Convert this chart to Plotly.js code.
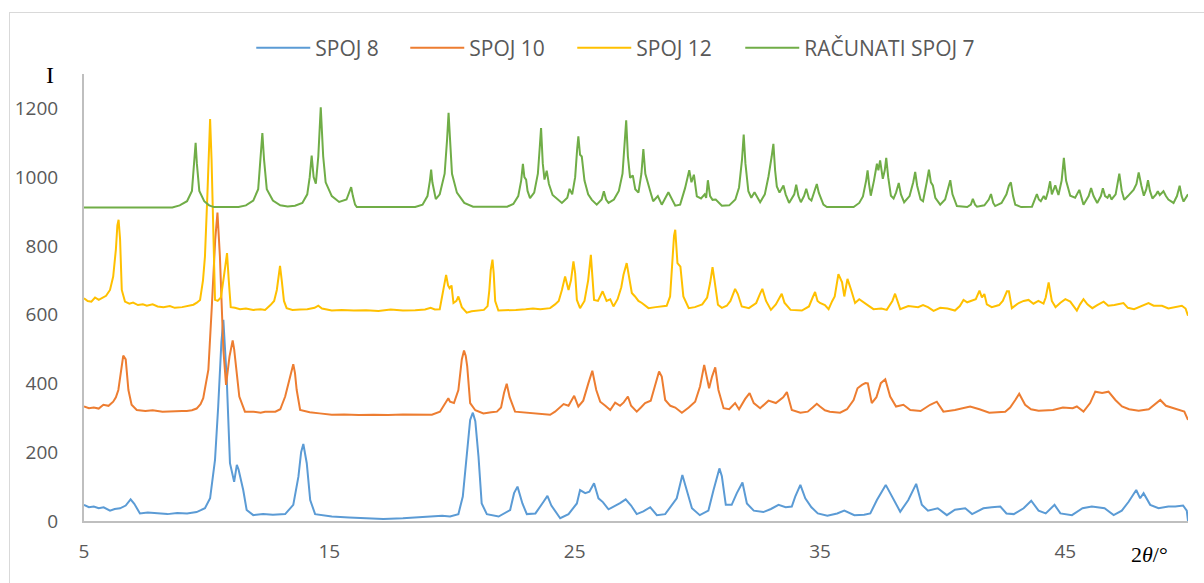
<!DOCTYPE html>
<html>
<head>
<meta charset="utf-8">
<script src="https://cdn.plot.ly/plotly-3.0.1.min.js"></script>
<style>
html,body{margin:0;padding:0;background:#fff;overflow:hidden;}
#wrap{position:relative;width:1204px;height:583px;}
#chart{position:absolute;left:0;top:0;width:1204px;height:583px;}
#frame{position:absolute;left:9px;top:12px;width:1300px;height:700px;border:1px solid #d9d9d9;pointer-events:none;}
</style>
</head>
<body>
<div id="wrap"><div id="chart"></div><div id="frame"></div></div>
<script>
// ---- data (2θ in degrees, intensity) ----
const seriesNames = ["SPOJ 8", "SPOJ 10", "SPOJ 12", "RAČUNATI SPOJ 7"];
const xTickVals = [5, 15, 25, 35, 45];
const yTickVals = [0, 200, 400, 600, 800, 1000, 1200];

const spoj8X = [5.0,5.2,5.4,5.6,5.8,6.06,6.25,6.47,6.7,6.9,7.05,7.28,7.6,8.0,8.4,8.8,9.2,9.59,9.93,10.14,10.34,10.47,10.6,10.68,10.75,10.82,10.95,11.12,11.23,11.3,11.49,11.63,11.9,12.3,12.7,13.2,13.53,13.74,13.85,13.94,14.08,14.22,14.42,15.1,15.8,16.46,17.2,18.0,18.6,19.18,19.6,19.92,20.26,20.44,20.61,20.74,20.85,20.95,21.08,21.21,21.42,21.9,22.37,22.53,22.67,22.87,23.05,23.4,23.73,23.89,24.05,24.41,24.75,25.09,25.22,25.43,25.6,25.79,25.97,26.15,26.38,26.6,26.85,27.08,27.3,27.53,27.8,28.08,28.35,28.69,28.95,29.16,29.39,29.57,29.78,30.1,30.45,30.66,30.9,31.0,31.16,31.4,31.61,31.84,32.02,32.3,32.69,33.0,33.31,33.6,33.85,33.99,34.2,34.4,34.65,34.91,35.3,35.7,35.99,36.4,36.8,37.05,37.32,37.68,37.97,38.27,38.6,38.92,39.15,39.4,39.8,40.17,40.5,40.92,41.2,41.66,42.0,42.35,42.6,42.9,43.3,43.61,43.91,44.2,44.56,44.8,45.27,45.7,46.08,46.6,46.97,47.3,47.58,47.89,48.05,48.19,48.46,48.8,49.2,49.48,49.8,49.95,50.0];
const spoj8Y = [47,40,42,37,40,30,35,37,45,63,50,22,25,22,20,23,22,26,37,66,178,333,520,585,500,410,168,114,163,150,90,32,17,20,18,20,47,129,200,224,168,61,20,13,10,8,6,8,10,13,15,13,20,71,207,294,315,290,187,51,20,13,32,81,100,51,20,22,56,73,45,8,20,51,90,81,85,110,66,55,34,42,52,63,45,20,28,40,17,20,45,66,134,90,37,17,30,90,153,130,47,47,81,112,51,30,26,35,47,40,42,71,105,66,40,22,15,22,30,17,18,22,61,105,66,27,61,108,47,30,37,17,33,37,20,37,40,42,22,20,37,59,30,22,47,22,17,37,42,37,17,30,56,90,66,81,47,37,42,42,45,30,0];

const spoj10X = [5.0,5.2,5.4,5.6,5.79,6.0,6.19,6.3,6.4,6.5,6.6,6.7,6.81,6.94,7.15,7.5,7.8,8.2,8.6,9.0,9.19,9.4,9.59,9.75,9.86,10.07,10.21,10.35,10.44,10.54,10.68,10.79,10.93,11.06,11.12,11.2,11.33,11.56,11.9,12.2,12.38,12.8,13.0,13.2,13.33,13.45,13.53,13.6,13.67,13.81,14.2,14.6,15.1,15.6,16.2,16.8,17.4,18.0,18.6,19.18,19.51,19.7,19.85,19.92,20.08,20.26,20.4,20.49,20.56,20.62,20.74,20.95,21.28,21.6,21.83,22.0,22.12,22.23,22.35,22.57,23.0,23.5,24.0,24.2,24.34,24.55,24.75,24.98,25.15,25.35,25.56,25.72,25.88,26.04,26.25,26.45,26.65,26.85,27.0,27.17,27.3,27.53,27.7,27.87,28.1,28.28,28.44,28.55,28.69,28.9,29.1,29.37,29.65,29.91,30.11,30.28,30.35,30.48,30.6,30.73,30.86,31.07,31.3,31.54,31.7,31.95,32.13,32.3,32.56,32.9,33.2,33.5,33.65,33.85,34.2,34.5,34.7,34.87,35.0,35.2,35.4,35.82,36.1,36.37,36.53,36.71,36.85,36.95,37.11,37.3,37.48,37.66,37.86,38.1,38.4,38.68,39.1,39.49,39.76,40.03,40.5,41.12,41.5,41.9,42.55,42.75,42.96,43.12,43.36,43.6,43.91,44.5,44.9,45.3,45.47,45.74,46.01,46.22,46.5,46.76,47.04,47.31,47.6,47.99,48.4,48.65,48.87,49.1,49.35,49.62,49.85,50.0];
const spoj10Y = [333,328,330,327,338,335,347,360,381,430,481,470,381,338,323,320,322,318,320,320,320,322,327,340,357,440,624,820,897,769,498,396,478,525,500,440,362,318,318,315,318,318,325,362,401,440,456,430,381,323,316,313,309,310,308,309,308,310,309,309,318,340,357,347,343,381,470,496,480,450,343,322,313,316,318,330,372,399,360,318,315,312,309,318,327,340,335,364,333,350,401,437,381,347,335,323,344,335,345,362,335,318,330,343,350,396,435,420,352,335,330,315,330,347,391,454,430,386,420,447,381,328,325,343,325,355,372,343,328,350,343,360,375,323,315,318,330,341,333,322,318,315,325,352,386,396,401,400,343,360,401,412,362,333,338,323,320,338,347,318,323,333,325,315,318,330,352,370,338,325,321,323,330,328,333,318,343,376,372,376,352,333,325,321,325,340,352,335,330,323,318,294];

const spoj12X = [5.0,5.15,5.3,5.45,5.6,5.75,5.9,6.06,6.19,6.3,6.36,6.41,6.47,6.54,6.67,6.85,7.0,7.2,7.4,7.56,7.8,8.0,8.24,8.5,8.7,9.0,9.2,9.46,9.6,9.73,9.85,9.93,10.03,10.14,10.2,10.27,10.34,10.45,10.58,10.7,10.83,10.9,10.98,11.15,11.36,11.6,11.9,12.2,12.38,12.6,12.75,12.86,12.95,12.99,13.06,13.15,13.26,13.5,13.8,14.1,14.4,14.55,14.7,15.1,15.5,16.0,16.5,17.0,17.5,18.0,18.5,18.9,19.13,19.3,19.5,19.62,19.76,19.84,19.9,19.98,20.06,20.18,20.26,20.4,20.6,20.8,21.0,21.3,21.45,21.52,21.58,21.65,21.7,21.76,21.89,22.2,22.6,23.0,23.3,23.6,24.0,24.2,24.35,24.48,24.61,24.75,24.85,24.95,25.02,25.09,25.22,25.4,25.55,25.66,25.72,25.79,25.95,26.14,26.3,26.45,26.58,26.75,26.9,26.99,27.12,27.2,27.33,27.46,27.6,27.74,28.01,28.3,28.5,28.75,28.89,28.98,29.05,29.1,29.15,29.19,29.31,29.37,29.43,29.65,29.9,30.2,30.4,30.52,30.62,30.7,30.84,31.0,31.2,31.35,31.54,31.65,31.81,32.1,32.4,32.55,32.65,32.8,33.0,33.2,33.44,33.55,33.8,34.26,34.55,34.7,34.8,34.9,35.0,35.2,35.35,35.5,35.6,35.75,35.9,35.99,36.12,36.27,36.43,36.6,36.8,37.0,37.18,37.5,37.72,37.95,38.06,38.15,38.27,38.6,39.0,39.2,39.4,39.63,39.9,40.2,40.5,40.7,40.85,41.0,41.2,41.35,41.5,41.6,41.7,41.8,42.0,42.3,42.45,42.62,42.7,42.82,43.1,43.3,43.5,43.7,43.9,44.11,44.2,44.32,44.45,44.6,44.8,45.0,45.2,45.47,45.6,45.74,45.9,46.1,46.3,46.56,46.75,47.0,47.37,47.55,47.8,48.1,48.39,48.6,48.94,49.2,49.5,49.75,49.9,50.0];
const spoj12Y = [648,640,638,650,643,648,655,672,711,790,860,876,820,672,638,632,635,628,630,626,630,624,622,625,620,622,625,629,635,643,700,769,950,1169,1050,867,643,640,650,710,779,700,622,620,616,618,614,616,614,628,640,672,735,742,700,640,619,614,615,616,620,626,618,612,614,612,613,611,615,612,613,615,620,615,616,660,716,685,677,685,634,640,653,622,606,610,612,614,625,670,730,760,720,640,612,612,614,616,618,616,619,630,640,672,711,672,700,755,720,643,619,640,700,774,720,643,640,668,640,645,624,645,680,716,750,720,663,653,640,634,619,622,624,626,653,760,830,847,780,750,740,700,653,619,622,630,650,692,738,700,629,620,626,640,675,660,624,619,634,660,675,640,614,630,661,635,614,612,624,650,666,640,634,628,616,640,653,718,694,653,704,672,634,645,636,625,616,618,614,640,661,640,616,625,622,628,622,611,620,618,612,625,643,636,640,645,670,650,660,630,622,628,640,668,668,619,634,640,643,632,640,632,650,694,640,622,635,645,638,612,630,645,630,619,628,638,626,628,634,620,616,625,634,626,626,618,622,626,618,597];

const spoj7X = [5.0,8.6,8.9,9.2,9.4,9.5,9.55,9.6,9.7,9.9,10.1,10.3,11.3,11.6,11.9,12.1,12.2,12.27,12.34,12.45,12.7,13.0,13.3,13.6,13.9,14.1,14.2,14.28,14.36,14.45,14.55,14.65,14.75,14.85,15.1,15.4,15.7,15.82,15.89,15.96,16.05,16.12,18.5,18.8,19.0,19.1,19.15,19.2,19.34,19.5,19.7,19.8,19.86,19.92,20.0,20.2,20.5,20.86,22.25,22.5,22.7,22.82,22.89,22.95,23.02,23.08,23.18,23.35,23.5,23.58,23.63,23.7,23.77,23.86,23.95,24.1,24.48,24.7,24.79,24.9,25.02,25.1,25.15,25.22,25.29,25.4,25.55,25.7,25.9,26.1,26.19,26.28,26.38,26.6,26.8,26.95,27.05,27.1,27.17,27.26,27.37,27.47,27.6,27.72,27.8,27.88,28.08,28.2,28.39,28.55,28.82,29.1,29.3,29.5,29.67,29.76,29.86,29.98,30.15,30.3,30.36,30.43,30.52,30.62,30.75,31.0,31.3,31.55,31.7,31.82,31.89,31.96,32.08,32.2,32.33,32.56,32.75,32.9,33.03,33.1,33.17,33.24,33.35,33.51,33.6,33.74,33.95,34.03,34.12,34.22,34.35,34.44,34.55,34.65,34.8,34.87,34.95,35.14,35.28,36.37,36.6,36.75,36.88,36.94,37.0,37.07,37.2,37.32,37.38,37.45,37.56,37.64,37.7,37.78,37.89,38.0,38.1,38.21,38.3,38.43,38.65,38.8,38.88,38.96,39.1,39.2,39.35,39.44,39.52,39.6,39.7,39.9,40.1,40.22,40.31,40.4,40.58,41.0,41.15,41.23,41.32,41.4,41.7,41.88,41.97,42.06,42.14,42.4,42.6,42.7,42.78,42.87,42.96,43.2,43.64,43.78,43.84,43.92,44.0,44.12,44.2,44.3,44.38,44.45,44.59,44.72,44.85,44.94,45.03,45.2,45.4,45.57,45.74,45.95,46.05,46.15,46.3,46.45,46.53,46.62,46.72,46.8,46.88,47.05,47.2,47.3,47.4,47.55,47.78,47.9,47.99,48.1,48.2,48.3,48.37,48.45,48.55,48.7,48.77,48.85,49.0,49.1,49.2,49.41,49.55,49.66,49.74,49.82,50.0];
const spoj7Y = [912,912,918,930,960,1040,1100,1040,960,930,918,913,913,918,932,965,1050,1128,1050,965,932,918,915,917,925,950,1000,1063,1000,981,1060,1203,1060,985,945,928,935,955,971,945,920,913,913,920,945,990,1022,985,936,950,1010,1110,1187,1110,1010,955,925,914,914,922,945,990,1039,1000,993,960,939,955,1010,1090,1143,1040,993,1019,980,948,925,940,966,950,1000,1080,1119,1065,1060,990,950,934,920,935,959,935,925,935,960,1010,1120,1165,1060,998,1005,965,955,1010,1082,1010,959,930,945,920,956,917,920,968,1020,985,1007,944,938,950,940,991,945,934,935,917,918,935,970,1050,1124,1040,959,940,956,927,950,1002,1060,1097,1020,973,955,976,950,925,950,978,945,927,945,966,938,932,965,980,955,920,913,913,925,944,990,1020,980,946,990,1039,1020,1049,995,1020,1056,1000,946,938,955,983,950,927,945,985,1015,975,935,930,985,1022,985,976,940,920,935,965,991,950,916,913,920,937,920,914,918,935,951,925,916,925,950,975,985,945,920,913,914,940,951,935,930,945,935,960,988,950,976,948,990,1056,990,946,940,963,920,945,968,945,925,945,968,945,940,950,935,950,1010,960,934,945,963,980,1014,975,946,965,991,960,938,950,959,948,959,945,935,925,945,975,945,929,950];

const seriesX = [spoj8X, spoj10X, spoj12X, spoj7X];
const seriesY = [spoj8Y, spoj10Y, spoj12Y, spoj7Y];
const seriesColors = ["#5B9BD5", "#ED7D31", "#FFC000", "#70AD47"];
const legendWidths = [85, 98, 99, null];

const traces = seriesNames.map((name, i) => {
  const t = {
    type: "scatter",
    mode: "lines",
    name: name,
    x: seriesX[i],
    y: seriesY[i],
    line: {color: seriesColors[i], width: 2},
    hoverinfo: "x+y+name"
  };
  if (legendWidths[i]) t.legendwidth = legendWidths[i];
  return t;
});

const tickFont = {family: "'Open Sans', 'DejaVu Sans', sans-serif", size: 19, color: "#595959"};

const layout = {
  width: 1204,
  height: 583,
  paper_bgcolor: "rgba(0,0,0,0)",
  plot_bgcolor: "rgba(0,0,0,0)",
  margin: {l: 84, r: 16, t: 74, b: 62},
  showlegend: true,
  legend: {
    orientation: "h",
    x: 0.1515, xanchor: "left",
    y: 1.058, yanchor: "middle",
    font: {family: "'Open Sans', sans-serif", size: 21, color: "#595959"},
    itemwidth: 54,
    bgcolor: "rgba(0,0,0,0)"
  },
  xaxis: {
    range: [5, 50],
    tickvals: xTickVals,
    ticktext: xTickVals.map(String),
    showgrid: false,
    zeroline: false,
    showline: true,
    linecolor: "#bfbfbf",
    linewidth: 2,
    ticks: "",
    ticklabelstandoff: 12,
    tickfont: tickFont
  },
  yaxis: {
    range: [0, 1300],
    tickvals: yTickVals,
    ticktext: yTickVals.map(String),
    showgrid: false,
    zeroline: false,
    showline: true,
    linecolor: "#bfbfbf",
    linewidth: 2,
    ticks: "",
    ticklabelstandoff: 20,
    tickfont: tickFont
  },
  annotations: [
    {text: "I", xref: "paper", yref: "paper", x: -0.0308, y: 0.997, xanchor: "center", yanchor: "middle",
     showarrow: false, font: {family: "'Liberation Serif', 'Times New Roman', serif", size: 24, color: "#000"}},
    {text: "2<i>θ</i>/°", xref: "paper", yref: "paper", x: 0.965, y: -0.076, xanchor: "center", yanchor: "middle",
     showarrow: false, font: {family: "'Liberation Serif', 'Times New Roman', serif", size: 22, color: "#000"}}
  ]
};

Plotly.newPlot("chart", traces, layout, {displayModeBar: false, staticPlot: false});
</script>
</body>
</html>
